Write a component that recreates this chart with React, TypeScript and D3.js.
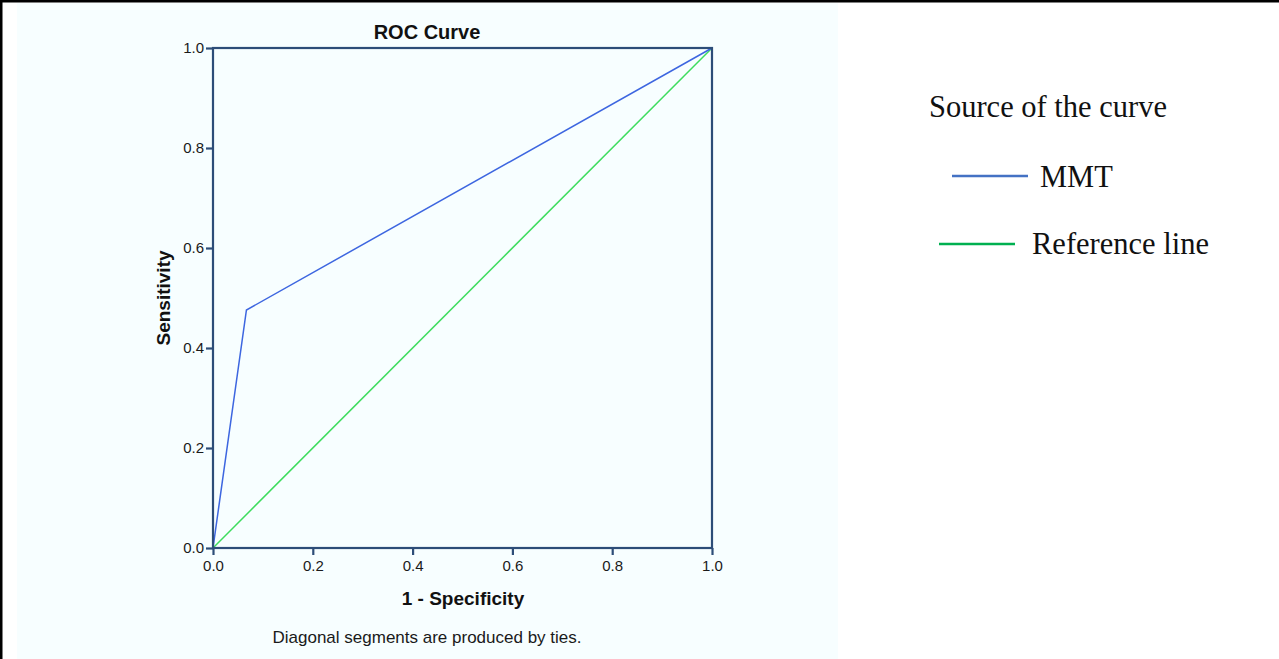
import React, { useRef, useEffect } from 'react';
import * as d3 from 'd3';

// ROC curve points (1 - specificity, sensitivity)
const mmtFpr = [0, 0.067, 1];
const mmtTpr = [0, 0.476, 1];
const refFpr = [0, 1];
const refTpr = [0, 1];
const tickValues = [0, 0.2, 0.4, 0.6, 0.8, 1.0];
const legendLabels = ['MMT', 'Reference line'];
const legendColors = ['#4472C4', '#00B050'];

const W = 1279;
const H = 659;

const App = () => {
  const svgRef = useRef<SVGSVGElement>(null);

  useEffect(() => {
    const svg = d3.select(svgRef.current);
    svg.selectAll('*').remove();

    const plot = { left: 213, top: 48, width: 499, height: 500 };
    const axisColor = '#2D4D78';
    const sans = 'Arial, "Liberation Sans", sans-serif';

    // page frame + panel background
    svg.append('rect').attr('x', 0).attr('y', 0).attr('width', W).attr('height', H).style('fill', '#ffffff');
    svg.append('rect').attr('x', 17).attr('y', 3).attr('width', 821).attr('height', H - 3).style('fill', '#F7FEFF');
    svg.append('rect').attr('x', 0).attr('y', 0).attr('width', W).attr('height', 2.5).style('fill', '#000');
    svg.append('rect').attr('x', 0).attr('y', 0).attr('width', 2.5).attr('height', H).style('fill', '#000');

    const xScale = d3.scaleLinear().domain([0, 1]).range([0, plot.width]);
    const yScale = d3.scaleLinear().domain([0, 1]).range([plot.height, 0]);

    const g = svg.append('g').attr('transform', `translate(${plot.left},${plot.top})`);

    // lines
    const line = d3.line<[number, number]>()
      .x(d => xScale(d[0]))
      .y(d => yScale(d[1]));

    g.append('path')
      .datum(refFpr.map((v, i) => [v, refTpr[i]] as [number, number]))
      .attr('d', line)
      .style('fill', 'none')
      .style('stroke', '#3EDC5E')
      .style('stroke-width', 1.5);

    g.append('path')
      .datum(mmtFpr.map((v, i) => [v, mmtTpr[i]] as [number, number]))
      .attr('d', line)
      .style('fill', 'none')
      .style('stroke', '#3D66E0')
      .style('stroke-width', 1.5);

    // frame
    g.append('rect')
      .attr('x', 0).attr('y', 0)
      .attr('width', plot.width).attr('height', plot.height)
      .style('fill', 'none')
      .style('stroke', axisColor)
      .style('stroke-width', 2.2);

    // axes
    const xAxis = g.append('g')
      .attr('transform', `translate(0,${plot.height})`)
      .call(d3.axisBottom(xScale).tickValues(tickValues).tickFormat(d3.format('.1f')).tickSize(7).tickPadding(5));
    const yAxis = g.append('g')
      .call(d3.axisLeft(yScale).tickValues(tickValues).tickFormat(d3.format('.1f')).tickSize(7).tickPadding(2));

    [xAxis, yAxis].forEach(ax => {
      ax.attr('font-size', 15).attr('font-family', sans);
      ax.select('.domain').remove();
      ax.selectAll('line').style('stroke', axisColor).style('stroke-width', 2.2);
      ax.selectAll('text')
        .attr('font-size', 15)
        .style('font-family', sans)
        .style('font-size', '15px')
        .style('fill', '#1a1a1a');
    });

    svg.append('text')
      .attr('x', 427).attr('y', 39)
      .attr('text-anchor', 'middle')
      .style('font-family', sans).style('font-size', '20px').style('font-weight', 'bold')
      .style('fill', '#111')
      .text('ROC Curve');

    svg.append('text')
      .attr('x', 463).attr('y', 605)
      .attr('text-anchor', 'middle')
      .style('font-family', sans).style('font-size', '19px').style('font-weight', 'bold')
      .style('fill', '#111')
      .text('1 - Specificity');

    svg.append('text')
      .attr('transform', `translate(170,298) rotate(-90)`)
      .attr('text-anchor', 'middle')
      .style('font-family', sans).style('font-size', '19px').style('font-weight', 'bold')
      .style('fill', '#111')
      .text('Sensitivity');

    svg.append('text')
      .attr('x', 427).attr('y', 643)
      .attr('text-anchor', 'middle')
      .style('font-family', sans).style('font-size', '17px')
      .style('fill', '#1a1a1a')
      .text('Diagonal segments are produced by ties.');

    // legend
    const serif = '"Liberation Serif", "DejaVu Serif", serif';
    svg.append('text')
      .attr('x', 929).attr('y', 117)
      .style('font-family', serif).style('font-size', '30.5px')
      .style('fill', '#111')
      .text('Source of the curve');

    const legendRows = [
      { x1: 952, x2: 1028, ly: 176, tx: 1040, ty: 187 },
      { x1: 939, x2: 1015, ly: 244, tx: 1032, ty: 254 }
    ];
    legendRows.forEach((r, i) => {
      svg.append('line')
        .attr('x1', r.x1).attr('x2', r.x2).attr('y1', r.ly).attr('y2', r.ly)
        .style('stroke', legendColors[i]).style('stroke-width', 2.5);
      svg.append('text')
        .attr('x', r.tx).attr('y', r.ty)
        .style('font-family', serif).style('font-size', '30.5px')
        .style('fill', '#111')
        .text(legendLabels[i]);
    });
  }, []);

  return (
    <div style={{ position: 'absolute', left: 0, top: 0 }}>
      <svg ref={svgRef} width={W} height={H} style={{ display: 'block' }}></svg>
    </div>
  );
};

export default App;
